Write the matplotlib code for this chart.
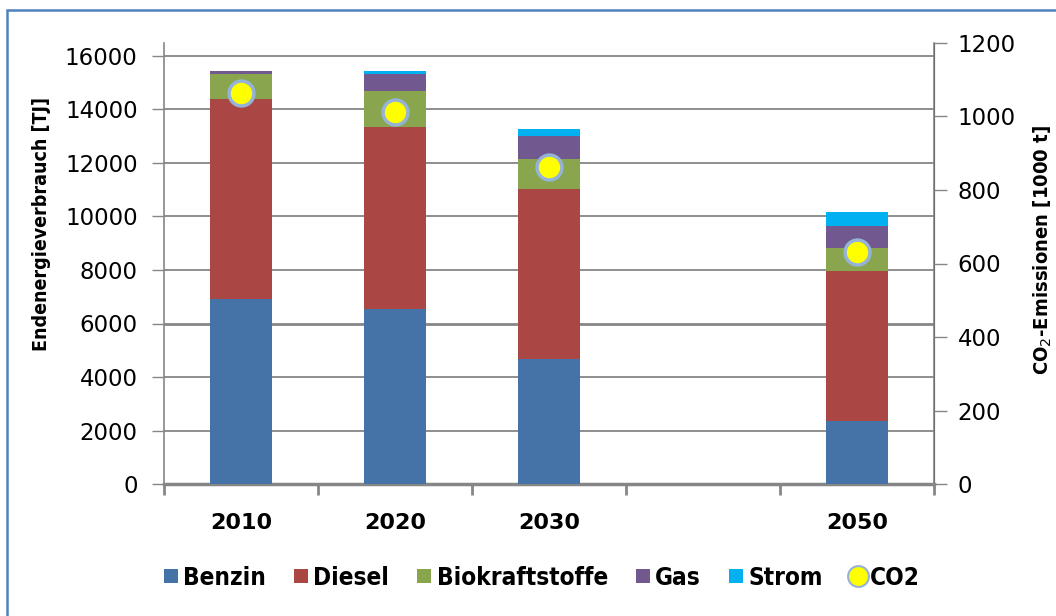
import numpy as np
import matplotlib
matplotlib.use("Agg")
import matplotlib.pyplot as plt
from matplotlib.lines import Line2D
from matplotlib.patches import Rectangle
from matplotlib import font_manager

# Endenergieverbrauch Verkehr [TJ] und CO2-Emissionen [1000 t]
years = [2010, 2020, 2030, 2050]
benzin = [6900, 6550, 4670, 2350]
diesel = [7480, 6800, 6360, 5610]
biokraftstoffe = [960, 1330, 1120, 850]
gas = [110, 660, 860, 830]
strom = [0, 110, 260, 520]
co2 = [1063, 1011, 862, 632]

series = [
    ("Benzin", benzin, "#4572A7"),
    ("Diesel", diesel, "#AA4643"),
    ("Biokraftstoffe", biokraftstoffe, "#89A54E"),
    ("Gas", gas, "#71588F"),
    ("Strom", strom, "#00B0F0"),
]

# pick a narrow face for labels and legend if one is around
names = {f.name for f in font_manager.fontManager.ttflist}
cond = [f for f in font_manager.fontManager.ttflist
        if f.name == "DejaVu Sans" and f.stretch == "condensed"]
if "Liberation Sans Narrow" in names:
    narrow = dict(family="Liberation Sans Narrow")
elif cond:
    narrow = dict(family="DejaVu Sans", stretch="condensed")
else:
    narrow = dict(family="Liberation Sans")

grid_col = "#868686"
co2_face, co2_edge = "#FFFF00", "#95B3D7"

fig = plt.figure(figsize=(10.56, 6.16), dpi=100)
ax = fig.add_axes([164 / 1056, 1 - 484 / 616, 770 / 1056, 441 / 616])
ax2 = ax.twinx()

# slot per decade, 2040 stays empty
x = np.array([(y - years[0]) / 10 for y in years])
bottom = np.zeros(len(years))
for name, vals, col in series:
    ax.bar(x, vals, width=0.4, bottom=bottom, color=col, label=name, zorder=3)
    bottom += np.array(vals)

ax.set_xlim(-0.5, 4.5)
ax.set_ylim(0, 16000 * 441 / 428)
ax.set_yticks(np.arange(0, 16001, 2000))
ax.set_xticks(np.arange(-0.5, 4.6, 1.0))
ax.set_xticklabels([])
ax.tick_params(axis="x", length=8, width=2, color=grid_col)
ax.tick_params(axis="y", length=9, width=1, color=grid_col, labelsize=16.5, pad=10)
for yv in np.arange(2000, 16001, 2000):
    ax.axhline(yv, color=grid_col, lw=2.0 if yv == 6000 else 1.3, zorder=1)
for xv, yr in zip(x, years):
    ax.text(xv, -0.065, str(yr), transform=ax.get_xaxis_transform(),
            ha="center", va="top", fontsize=16, fontweight="bold")

ax.spines["top"].set_visible(False)
ax2.spines["top"].set_visible(False)
ax.spines["bottom"].set_color(grid_col)
ax.spines["bottom"].set_linewidth(2.5)
ax.spines["left"].set_color(grid_col)
ax.spines["left"].set_linewidth(1.2)
ax2.spines["right"].set_color(grid_col)
ax2.spines["right"].set_linewidth(1.2)
ax2.spines["bottom"].set_visible(False)
ax2.spines["left"].set_visible(False)

ax2.scatter(x, co2, s=320, color=co2_face, edgecolors=co2_edge, linewidths=2.5, zorder=5)
ax2.set_ylim(0, 1200)
ax2.set_yticks(np.arange(0, 1201, 200))
ax2.tick_params(axis="y", length=9, width=1, color=grid_col, labelsize=16.5, pad=8)

fig.text(42 / 1056, 1 - 224 / 616, "Endenergieverbrauch [TJ]", rotation=90,
         ha="center", va="center", fontsize=14, fontweight="bold", **narrow)
fig.text(1043 / 1056, 1 - 250 / 616, "CO$_2$-Emissionen [1000 t]", rotation=90,
         ha="center", va="center", fontsize=14.5, fontweight="bold", **narrow)

handles = [Line2D([], [], marker="s", ls="", markersize=10, markerfacecolor=c,
                  markeredgewidth=0, label=n) for n, _, c in series]
handles.append(Line2D([], [], marker="o", ls="", markersize=15, markerfacecolor=co2_face,
                      markeredgecolor=co2_edge, markeredgewidth=1.5, label="CO2"))
fig.legend(handles=handles, loc="center", bbox_to_anchor=(540 / 1056, 1 - 578 / 616),
           ncol=6, frameon=False, handlelength=0.9, handletextpad=0.05,
           columnspacing=1.0, prop=dict(size=17.5, weight="bold", **narrow))

# frame around the chart area
fig.patches.append(Rectangle((7 / 1056, -0.1), 1.2, (1 - 10 / 616) + 0.1,
                             transform=fig.transFigure, fill=False,
                             edgecolor="#4F81BD", lw=1.8))

fig.savefig("out.png", dpi=100)
